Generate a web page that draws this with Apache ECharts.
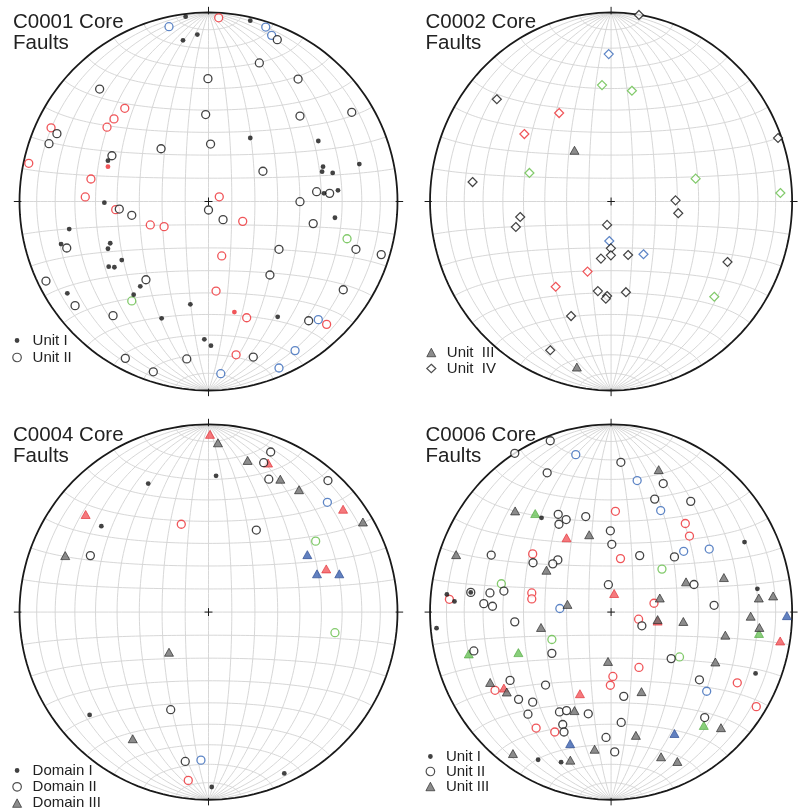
<!DOCTYPE html>
<html><head><meta charset="utf-8">
<script src="https://cdn.jsdelivr.net/npm/echarts/dist/echarts.min.js"></script>
<style>html,body{margin:0;padding:0;background:#fff}#c{width:803px;height:811px}</style>
</head><body><div id="c"></div>
<script>
// ---------- DATA (net coordinates, -1..1) ----------
// Net graticule angles (degrees)
const netAngles = [-80,-70,-60,-50,-40,-30,-20,-10,0,10,20,30,40,50,60,70,80];

// C0001
const c1_unitI_black = [[-0.121,0.978],[-0.059,0.883],[-0.135,0.853],[-0.532,0.216],[-0.551,-0.006],[0.221,0.957],[0.221,0.336],[0.581,0.320],[0.798,0.198],[0.606,0.184],[0.601,0.158],[0.657,0.151],[0.611,0.043],[0.685,0.059],[-0.737,-0.146],[-0.780,-0.225],[-0.520,-0.221],[-0.532,-0.250],[-0.459,-0.310],[-0.528,-0.345],[-0.498,-0.348],[-0.361,-0.449],[-0.747,-0.486],[-0.396,-0.493],[-0.096,-0.544],[-0.248,-0.618],[-0.022,-0.729],[0.013,-0.763],[0.669,-0.086],[0.366,-0.610]];
const c1_unitI_red = [[-0.532,0.184],[0.137,-0.585]];
const c1_unitII_black = [[-0.003,0.650],[-0.576,0.595],[-0.015,0.460],[-0.802,0.359],[-0.844,0.306],[-0.251,0.279],[0.011,0.304],[-0.511,0.242],[-0.472,-0.040],[0.364,0.856],[0.269,0.733],[0.474,0.648],[0.758,0.472],[0.484,0.452],[0.288,0.160],[0.572,0.052],[0.641,0.043],[0.484,-0.001],[0.000,-0.045],[-0.406,-0.073],[-0.750,-0.246],[-0.331,-0.414],[-0.860,-0.421],[-0.706,-0.551],[-0.505,-0.604],[-0.440,-0.830],[-0.115,-0.833],[-0.292,-0.901],[0.077,-0.096],[0.554,-0.117],[0.780,-0.253],[0.914,-0.281],[0.373,-0.253],[0.325,-0.389],[0.713,-0.467],[0.530,-0.631],[0.237,-0.823]];
const c1_unitII_red = [[0.054,0.972],[-0.443,0.493],[-0.500,0.437],[-0.537,0.393],[-0.833,0.390],[-0.951,0.202],[-0.622,0.119],[-0.652,0.024],[0.057,0.025],[-0.308,-0.124],[-0.235,-0.133],[0.181,-0.105],[0.070,-0.288],[0.040,-0.474],[0.202,-0.615],[0.625,-0.650],[0.146,-0.811],[-0.491,-0.043]];
const c1_unitII_blue = [[-0.209,0.925],[0.303,0.923],[0.334,0.879],[0.581,-0.625],[0.458,-0.789],[0.373,-0.881],[0.065,-0.911]];
const c1_unitII_green = [[-0.406,-0.526],[0.733,-0.197]];

// C0002
const c2_unitIII_gray = [[-0.202,0.271],[-0.189,-0.876]];
const c2_unitIV_black = [[-0.631,0.541],[-0.765,0.103],[-0.502,-0.082],[-0.526,-0.135],[-0.056,-0.302],[-0.073,-0.474],[-0.221,-0.606],[-0.336,-0.787],[0.154,0.987],[0.922,0.336],[0.356,0.006],[0.371,-0.062],[-0.022,-0.124],[-0.001,-0.248],[-0.001,-0.285],[0.094,-0.283],[0.643,-0.320],[-0.022,-0.500],[-0.029,-0.514],[0.082,-0.480]];
const c2_unitIV_red = [[-0.287,0.468],[-0.479,0.357],[-0.130,-0.371],[-0.306,-0.451]];
const c2_unitIV_green = [[-0.050,0.616],[0.115,0.586],[-0.451,0.151],[0.467,0.121],[0.935,0.045],[0.570,-0.504]];
const c2_unitIV_blue = [[-0.013,0.780],[-0.010,-0.209],[0.179,-0.279]];

// C0004
const c4_domainI_black = [[-0.319,0.685],[-0.567,0.458],[0.040,0.726],[-0.629,-0.548],[0.401,-0.860],[0.017,-0.932]];
const c4_domainII_black = [[-0.625,0.301],[-0.200,-0.520],[-0.123,-0.796],[0.329,0.853],[0.292,0.796],[0.319,0.708],[0.632,0.701],[0.253,0.437]];
const c4_domainII_red = [[-0.144,0.468],[-0.107,-0.897]];
const c4_domainII_blue = [[-0.040,-0.789],[0.629,0.585]];
const c4_domainII_green = [[0.567,0.378],[0.669,-0.110]];
const c4_domainIII_gray = [[-0.758,0.301],[-0.209,-0.214],[-0.401,-0.675],[0.050,0.902],[0.207,0.808],[0.380,0.708],[0.479,0.652],[0.817,0.480]];
const c4_domainIII_red = [[0.008,0.947],[-0.650,0.520],[0.315,0.794],[0.712,0.548],[0.623,0.230]];
const c4_domainIII_blue = [[0.523,0.306],[0.574,0.204],[0.692,0.204]];

// C0006
const c6_unitI_black = [[-0.384,0.502],[-0.775,0.105],[-0.907,0.094],[-0.865,0.057],[0.737,0.373],[0.808,0.124],[-0.964,-0.086],[-0.403,-0.787],[-0.276,-0.800],[0.798,-0.327]];
const c6_unitII_black = [[-0.336,0.913],[-0.532,0.846],[-0.353,0.742],[-0.292,0.521],[-0.248,0.493],[-0.288,0.468],[-0.140,0.509],[-0.662,0.304],[-0.431,0.263],[-0.294,0.278],[-0.322,0.257],[-0.592,0.112],[-0.669,0.102],[-0.775,0.105],[-0.703,0.045],[-0.655,0.031],[0.054,0.798],[0.288,0.685],[0.241,0.602],[0.440,0.590],[-0.004,0.433],[0.004,0.361],[0.158,0.301],[0.350,0.294],[-0.015,0.146],[0.458,0.147],[0.569,0.036],[-0.532,-0.052],[-0.758,-0.207],[-0.327,-0.220],[-0.558,-0.364],[-0.362,-0.389],[-0.511,-0.465],[-0.433,-0.480],[-0.459,-0.544],[-0.285,-0.532],[-0.246,-0.525],[-0.126,-0.542],[-0.267,-0.599],[-0.260,-0.639],[0.170,-0.073],[0.332,-0.248],[0.488,-0.361],[0.070,-0.449],[0.056,-0.588],[0.517,-0.562],[-0.028,-0.668],[0.020,-0.745]];
const c6_unitII_red = [[-0.433,0.310],[-0.893,0.068],[-0.438,0.102],[-0.438,0.070],[0.024,0.537],[0.410,0.472],[0.433,0.405],[0.052,0.285],[0.237,0.047],[-0.641,-0.417],[-0.414,-0.618],[-0.311,-0.639],[0.152,-0.038],[0.154,-0.295],[0.010,-0.343],[-0.004,-0.390],[0.697,-0.377],[0.802,-0.504]];
const c6_unitII_blue = [[-0.195,0.839],[-0.283,0.019],[0.144,0.701],[0.274,0.541],[0.542,0.336],[0.401,0.324],[0.528,-0.422]];
const c6_unitII_green = [[-0.606,0.151],[-0.327,-0.146],[0.281,0.229],[0.378,-0.239]];
const c6_unitIII_gray = [[-0.530,0.539],[-0.121,0.412],[-0.856,0.306],[-0.357,0.223],[-0.241,0.041],[0.263,0.759],[0.623,0.184],[0.414,0.161],[0.816,0.075],[0.895,0.086],[0.269,0.075],[-0.387,-0.082],[-0.668,-0.375],[-0.576,-0.426],[-0.202,-0.525],[-0.091,-0.731],[-0.542,-0.754],[-0.225,-0.789],[0.771,-0.022],[0.257,-0.040],[0.399,-0.050],[0.819,-0.082],[0.631,-0.123],[-0.017,-0.263],[0.576,-0.266],[0.168,-0.424],[0.607,-0.616],[0.137,-0.657],[0.276,-0.771],[0.366,-0.796]];
const c6_unitIII_red = [[-0.246,0.396],[0.017,0.099],[-0.592,-0.405],[-0.172,-0.435],[0.934,-0.154],[0.257,-0.048]];
const c6_unitIII_green = [[-0.419,0.525],[-0.786,-0.223],[-0.512,-0.216],[0.817,-0.114],[0.512,-0.604]];
const c6_unitIII_blue = [[-0.226,-0.701],[0.350,-0.647],[0.971,-0.019]];

const titles = ['C0001 Core\nFaults','C0002 Core\nFaults','C0004 Core\nFaults','C0006 Core\nFaults'];

// ---------- LAYOUT / STYLE ----------
const FONT = 'Liberation Sans, Arial, sans-serif';
const R = 189, D = 1.06;
const panels = [{cx:208.5,cy:201.5},{cx:619.5,cy:201.5},{cx:208.5,cy:613.5},{cx:619.5,cy:613.5}];
const COL = {black:'#141414', red:'#ec2b30', blue:'#3566b8', green:'#63bd46'};
const TRI = {
  gray:{fill:'#6f6f6f', edge:'#1f1f1f'},
  red:{fill:'#f2585c', edge:'#e02a30'},
  green:{fill:'#6cc35a', edge:'#4fa83d'},
  blue:{fill:'#3b62b0', edge:'#27468f'}
};

function proj(lonDeg, latDeg){
  const l = lonDeg*Math.PI/180, p = latDeg*Math.PI/180;
  const c = Math.cos(p)*Math.cos(l);
  const k = Math.sqrt(2/(1+c));
  return [k*Math.cos(p)*Math.sin(l)/Math.SQRT2, k*Math.sin(p)/Math.SQRT2];
}
function meridian(lon){ const a=[]; for(let t=-90;t<=90;t+=2) a.push(proj(lon,t)); return a; }
function parallel(lat){ const a=[]; for(let t=-90;t<=90;t+=2) a.push(proj(t,lat)); return a; }

function netSeries(i){
  const grid = [];
  netAngles.forEach(a => { grid.push({coords: meridian(a)}); grid.push({coords: parallel(a)}); });
  const prim = [{coords: meridian(-90)}, {coords: meridian(90)}];
  const h = 0.021;
  const marks = [
    {coords:[[-h,0],[h,0]]},{coords:[[0,-h],[0,h]]},
    {coords:[[0,0.99],[0,1.03]]},{coords:[[0,-0.99],[0,-1.03]]},
    {coords:[[0.99,0],[1.03,0]]},{coords:[[-0.99,0],[-1.03,0]]}
  ];
  const base = {type:'lines', coordinateSystem:'cartesian2d', xAxisIndex:i, yAxisIndex:i, polyline:true, silent:true, z:1};
  return [
    Object.assign({}, base, {name:'net'+i, data:grid, lineStyle:{color:'#d2d2d2', width:0.9, opacity:1}}),
    Object.assign({}, base, {name:'prim'+i, data:prim, lineStyle:{color:'#1a1a1a', width:1.8, opacity:1}}),
    Object.assign({}, base, {name:'marks'+i, data:marks, lineStyle:{color:'#1a1a1a', width:1, opacity:1}})
  ];
}

function pts(i, name, data, kind, color){
  const s = {type:'scatter', name, xAxisIndex:i, yAxisIndex:i, data, silent:true, z:3};
  if(kind==='dot'){ s.symbol='circle'; s.symbolSize=4.8; s.itemStyle={color:COL[color]}; }
  else if(kind==='open'){ s.symbol='circle'; s.symbolSize=8; s.itemStyle={color:'#fff', borderColor:COL[color], borderWidth:1.3}; }
  else if(kind==='dia'){ s.symbol='diamond'; s.symbolSize=9; s.itemStyle={color:'#fff', borderColor:COL[color], borderWidth:1.2}; }
  else if(kind==='tri'){ s.symbol='triangle'; s.symbolSize=[9,8]; s.itemStyle={color:TRI[color].fill, borderColor:TRI[color].edge, borderWidth:0.8}; }
  return s;
}

const series = [];
panels.forEach((p,i)=>series.push(...netSeries(i)));
// C0001
series.push(
  pts(0,'Unit II blue',c1_unitII_blue,'open','blue'),
  pts(0,'Unit II green',c1_unitII_green,'open','green'),
  pts(0,'Unit II red',c1_unitII_red,'open','red'),
  pts(0,'Unit II',c1_unitII_black,'open','black'),
  pts(0,'Unit I red',c1_unitI_red,'dot','red'),
  pts(0,'Unit I',c1_unitI_black,'dot','black')
);
// C0002
series.push(
  pts(1,'Unit  IV red',c2_unitIV_red,'dia','red'),
  pts(1,'Unit  IV green',c2_unitIV_green,'dia','green'),
  pts(1,'Unit  IV blue',c2_unitIV_blue,'dia','blue'),
  pts(1,'Unit  III',c2_unitIII_gray,'tri','gray'),
  pts(1,'Unit  IV',c2_unitIV_black,'dia','black')
);
// C0004
series.push(
  pts(2,'Domain III red',c4_domainIII_red,'tri','red'),
  pts(2,'Domain III blue',c4_domainIII_blue,'tri','blue'),
  pts(2,'Domain II red',c4_domainII_red,'open','red'),
  pts(2,'Domain II blue',c4_domainII_blue,'open','blue'),
  pts(2,'Domain II green',c4_domainII_green,'open','green'),
  pts(2,'Domain III',c4_domainIII_gray,'tri','gray'),
  pts(2,'Domain II',c4_domainII_black,'open','black'),
  pts(2,'Domain I',c4_domainI_black,'dot','black')
);
// C0006
series.push(
  pts(3,'Unit III red',c6_unitIII_red,'tri','red'),
  pts(3,'Unit III green',c6_unitIII_green,'tri','green'),
  pts(3,'Unit III blue',c6_unitIII_blue,'tri','blue'),
  pts(3,'Unit II red',c6_unitII_red,'open','red'),
  pts(3,'Unit II blue',c6_unitII_blue,'open','blue'),
  pts(3,'Unit II green',c6_unitII_green,'open','green'),
  pts(3,'Unit III',c6_unitIII_gray,'tri','gray'),
  pts(3,'Unit II',c6_unitII_black,'open','black'),
  pts(3,'Unit I',c6_unitI_black,'dot','black')
);

// small dot icon: invisible moves pad the bounding box so the dot stays small
const icDot = {icon:'path://M0,0M10,10M5,2.2A2.8,2.8,0,1,1,5,7.8A2.8,2.8,0,1,1,5,2.2Z', itemStyle:{color:'#111', borderWidth:0}};
const icOpen = {icon:'circle', itemStyle:{color:'#fff', borderColor:'#222', borderWidth:1.2}};
const icTri = {icon:'triangle', itemStyle:{color:'#6f6f6f', borderColor:'#1f1f1f', borderWidth:0.8}};
const icDia = {icon:'diamond', itemStyle:{color:'#fff', borderColor:'#222', borderWidth:1.2}};
function legend(left, top, gap, items){
  return {left, top, orient:'vertical', itemWidth:9, itemHeight:8.5, itemGap:gap, padding:0,
    selectedMode:false, textStyle:{fontSize:15, lineHeight:15, color:'#222', fontFamily:FONT, padding:[0,0,0,6]},
    data: items.map(([n,ic])=>Object.assign({name:n}, ic))};
}

const option = {
  animation:false,
  backgroundColor:'#fff',
  title: titles.map((t,i)=>({text:t, left: (i%2===0?13:425.5), top: (i<2?12:424.5), padding:0,
    textStyle:{fontSize:20.5, lineHeight:21, fontWeight:'normal', color:'#222', fontFamily:FONT}})),
  legend: [
    legend(12.2, 333, 2, [['Unit I',icDot],['Unit II',icOpen]]),
    legend(426.2, 345, 1, [['Unit  III',icTri],['Unit  IV',icDia]]),
    legend(12.2, 763, 1.3, [['Domain I',icDot],['Domain II',icOpen],['Domain III',icTri]]),
    legend(425.5, 749, 0, [['Unit I',icDot],['Unit II',icOpen],['Unit III',icTri]])
  ],
  grid: panels.map(p=>({left:p.cx-D*R, top:p.cy-D*R, width:2*D*R, height:2*D*R})),
  xAxis: panels.map((p,i)=>({type:'value', gridIndex:i, min:-D, max:D, show:false})),
  yAxis: panels.map((p,i)=>({type:'value', gridIndex:i, min:-D, max:D, show:false})),
  series
};
const chart = echarts.init(document.getElementById('c'), null, {renderer:'canvas'});
chart.setOption(option);
</script></body></html>
